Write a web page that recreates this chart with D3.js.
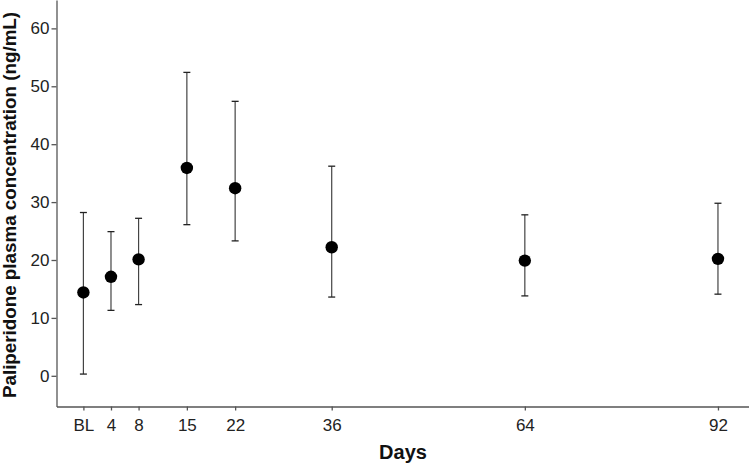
<!DOCTYPE html>
<html><head><meta charset="utf-8">
<script src="https://cdn.jsdelivr.net/npm/d3@7"></script>
<style>body{margin:0;background:#fff}svg{display:block}</style>
</head><body>
<svg id="c" width="749" height="466"></svg>
<script>
const days = [0, 4, 8, 15, 22, 36, 64, 92];
const dayLabels = ["BL", "4", "8", "15", "22", "36", "64", "92"];
const means = [14.4, 17.1, 20.1, 35.9, 32.4, 22.2, 19.9, 20.2];
const upper = [28.2, 24.9, 27.2, 52.4, 47.4, 36.2, 27.8, 29.8];
const lower = [0.3, 11.3, 12.3, 26.1, 23.3, 13.6, 13.8, 14.1];
const yTicks = [0, 10, 20, 30, 40, 50, 60];

const svg = d3.select("#c");
const L = 56.5, R = 749, T = 0, B = 406.5;
const x = d3.scaleLinear().domain([-3.9, 96.5]).range([L, R]);
const y = d3.scaleLinear().domain([-5.3, 64.9]).range([B, T]);
const axisCol = "#555";
const font = "'Liberation Sans', Arial, sans-serif";

const yAxis = svg.append("g").attr("transform", `translate(${L},0)`)
  .call(d3.axisLeft(y).tickValues(yTicks).tickSize(5).tickPadding(2).tickSizeOuter(0));
const xAxis = svg.append("g").attr("transform", `translate(0,${B})`)
  .call(d3.axisBottom(x).tickValues(days).tickFormat((d, i) => dayLabels[i]).tickSize(4).tickPadding(8).tickSizeOuter(0));
[yAxis, xAxis].forEach(g => {
  g.selectAll("path,line").attr("stroke", axisCol).attr("stroke-width", 1.3);
  g.selectAll("text").attr("fill", "#222").style("font-family", font).style("font-size", "17px");
});

const g = svg.append("g");
days.forEach((d, i) => {
  const cx = x(d);
  g.append("line").attr("x1", cx).attr("x2", cx).attr("y1", y(upper[i])).attr("y2", y(lower[i]))
    .attr("stroke", "#444").attr("stroke-width", 1.2);
  [upper[i], lower[i]].forEach(v => {
    g.append("line").attr("x1", cx - 3.5).attr("x2", cx + 3.5).attr("y1", y(v)).attr("y2", y(v))
      .attr("stroke", "#222").attr("stroke-width", 1.3);
  });
  g.append("circle").attr("cx", cx).attr("cy", y(means[i])).attr("r", 6.2).attr("fill", "#000");
});

svg.append("text").attr("x", 403).attr("y", 459).attr("text-anchor", "middle")
  .style("font-family", font).style("font-weight", "bold").style("font-size", "20px").attr("fill", "#111").text("Days");
svg.append("text").attr("transform", "translate(15.5,205) rotate(-90)").attr("text-anchor", "middle")
  .style("font-family", font).style("font-weight", "bold").style("font-size", "18.8px").attr("fill", "#111")
  .text("Paliperidone plasma concentration (ng/mL)");
</script>
</body></html>
